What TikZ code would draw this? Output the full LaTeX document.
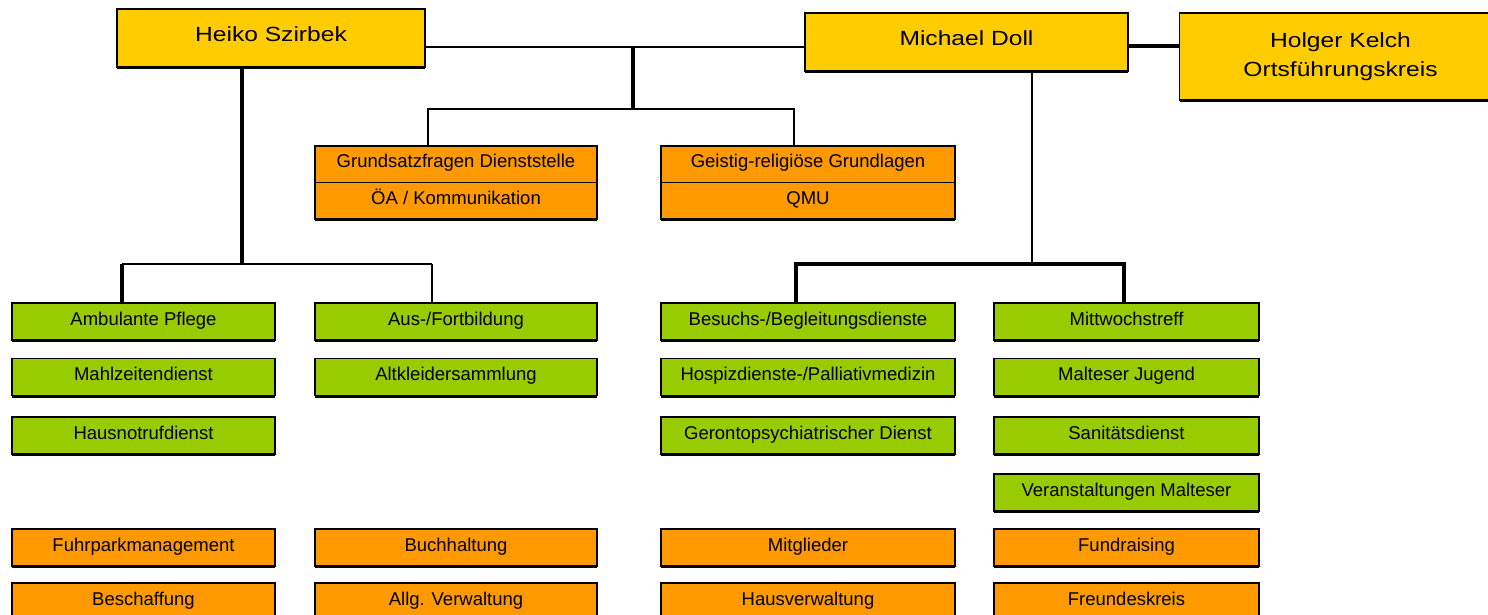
\documentclass[tikz,border=0pt]{standalone}
\usepackage{fontspec}
\setmainfont{Liberation Sans}
\newfontfamily\kopffont{Liberation Sans}[FakeStretch=1.2]
\usetikzlibrary{shadows}
\definecolor{chefgelb}{HTML}{FFCC00}
\definecolor{dienstorange}{HTML}{FF9900}
\definecolor{dienstgruen}{HTML}{99CC00}

\tikzset{
  kasten/.style={draw=black, line width=1.6pt, inner sep=0pt, align=center,
    text height=0.85em, text depth=0.13em,
    drop shadow={shadow xshift=0pt, shadow yshift=-2pt, fill=black, opacity=1}},
  chef/.style={kasten, fill=chefgelb, font=\kopffont\fontsize{20.5}{29}\selectfont},
  stelle/.style={kasten, fill=dienstorange, minimum height=36.5pt,
    font=\fontsize{18.5}{20}\selectfont},
  gruen/.style={kasten, fill=dienstgruen, minimum height=37pt,
    font=\fontsize{18.5}{20}\selectfont},
  orange/.style={kasten, fill=dienstorange, minimum height=37pt,
    font=\fontsize{18.5}{20}\selectfont},
  duenn/.style={line width=1.5pt},
  mittel/.style={line width=2pt},
  dick/.style={line width=3.5pt}
}

\begin{document}
\begin{tikzpicture}[x=1pt,y=-1pt]
\useasboundingbox (0,0) rectangle (1488,615);

% Leitung
\node[chef, minimum width=308pt, minimum height=58pt] (heiko) at (271,38) {Heiko Szirbek};
\node[chef, minimum width=323pt, minimum height=58pt] (michael) at (966.5,42) {Michael Doll};
\node[chef, minimum width=322pt, minimum height=87pt, text height=, text depth=] (holger)
  at (1340.5,56.5) {Holger Kelch\\Ortsführungskreis};

% Stabsstellen
\node[stelle, minimum width=282pt] (grundA) at (456,164.25) {Grundsatzfragen Dienststelle};
\node[stelle, minimum width=282pt] (grundB) at (456,200.75) {ÖA / Kommunikation};
\node[stelle, minimum width=294pt] (geistA) at (808,164.25) {Geistig-religiöse Grundlagen};
\node[stelle, minimum width=294pt] (geistB) at (808,200.75) {QMU};

% Dienste
\foreach \n/\x/\w/\y/\t in {
  ambul/143.5/263/321.5/{Ambulante Pflege},
  mahl/143.5/263/377/{Mahlzeitendienst},
  hausnot/143.5/263/435.5/{Hausnotrufdienst},
  aus/456/282/321.5/{Aus-/Fortbildung},
  altkl/456/282/377/{Altkleidersammlung},
  besuch/808/294/321.5/{Besuchs-/Begleitungsdienste},
  hospiz/808/294/377/{Hospizdienste-/Palliativmedizin},
  geronto/808/294/435.5/{Gerontopsychiatrischer Dienst},
  mittwoch/1126.5/265/321.5/{Mittwochstreff},
  jugend/1126.5/265/377/{Malteser Jugend},
  sani/1126.5/265/435.5/{Sanitätsdienst},
  veranst/1126.5/265/492.5/{Veranstaltungen Malteser}}
  \node[gruen, minimum width=\w pt] (\n) at (\x,\y) {\t};

% Verwaltung
\foreach \n/\x/\w/\y/\t in {
  fuhr/143.5/263/547.5/{Fuhrparkmanagement},
  besch/143.5/263/601.5/{Beschaffung},
  buch/456/282/547.5/{Buchhaltung},
  verw/456/282/601.5/{Allg. Verwaltung},
  mitgl/808/294/547.5/{Mitglieder},
  hausverw/808/294/601.5/{Hausverwaltung},
  fund/1126.5/265/547.5/{Fundraising},
  freund/1126.5/265/601.5/{Freundeskreis}}
  \node[orange, minimum width=\w pt] (\n) at (\x,\y) {\t};

% Verbindungen oben
\coordinate (kopf) at (633,47);
\coordinate (stab) at (633,109);
\coordinate (stabL) at (428,109);
\coordinate (stabR) at (794,109);
\coordinate (mh) at (1150,46);
\draw[duenn] (heiko.east |- kopf) -- (michael.west |- kopf);
\draw[dick] (kopf) -- (stab);
\draw[duenn] (stabL |- grundA.north) -- (stabL) -- (stabR) -- (stabR |- geistA.north);
\draw[dick] (michael.east |- mh) -- (holger.west |- mh);

% Heiko Szirbek
\coordinate (hz) at (242,264);
\coordinate (hzL) at (122,264);
\coordinate (hzR) at (432,264);
\draw[dick] (hz |- heiko.south) -- (hz);
\draw[mittel] (hzL) -- (hzR);
\draw[dick] (hzL) -- (hzL |- ambul.north);
\draw[duenn] (hzR) -- (hzR |- aus.north);

% Michael Doll
\coordinate (md) at (1032,264);
\coordinate (mdL) at (796,264);
\coordinate (mdR) at (1124,264);
\draw[duenn] (md |- michael.south) -- (md);
\draw[dick] (mdL |- besuch.north) -- (mdL) -- (mdR) -- (mdR |- mittwoch.north);
\end{tikzpicture}
\end{document}
